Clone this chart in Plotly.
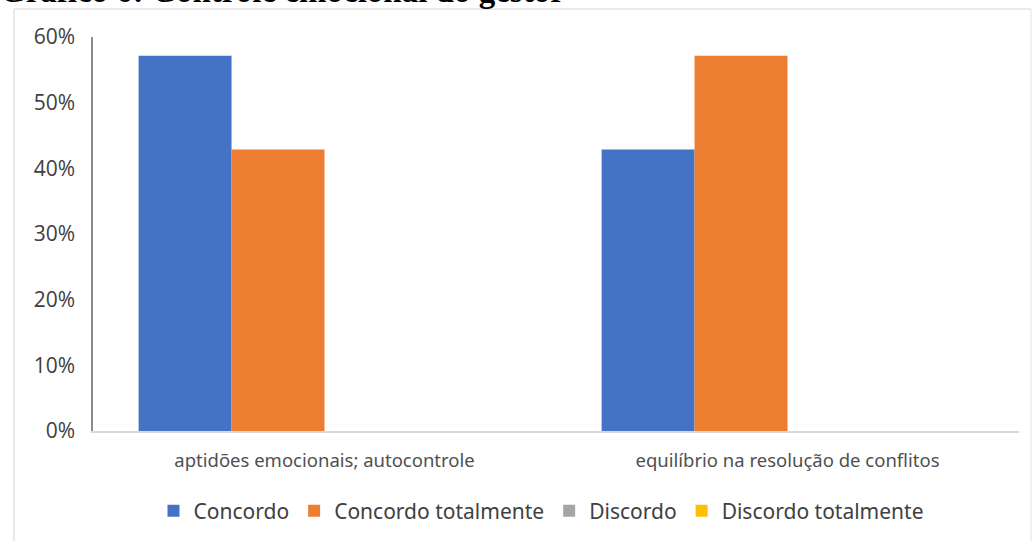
import plotly.graph_objects as go

categories = ["aptidões emocionais; autocontrole", "equilíbrio na resolução de conflitos"]
series_names = ["Concordo", "Concordo totalmente", "Discordo", "Discordo totalmente"]
concordo = [0.5714, 0.4286]
concordo_totalmente = [0.4286, 0.5714]
discordo = [0.0, 0.0]
discordo_totalmente = [0.0, 0.0]
series_values = [concordo, concordo_totalmente, discordo, discordo_totalmente]
colors = ["#4472C4", "#ED7D31", "#A5A5A5", "#FFC000"]
title_text = "Gráfico 6: Controle emocional do gestor"

fig = go.Figure()
for name, vals, c in zip(series_names, series_values, colors):
    fig.add_trace(go.Bar(x=categories, y=vals, name=name, marker=dict(color=c, line=dict(width=0))))

W, H = 1033, 541
L, R, T, B = 93, 14, 37, 110
pw, ph = W - L - R, H - T - B

def px(x):
    return (x - L) / pw

def py(y):
    return (H - B - y) / ph

fig.update_layout(
    width=W, height=H,
    margin=dict(l=L, r=R, t=T, b=B),
    paper_bgcolor="white", plot_bgcolor="white",
    barmode="group", bargap=0.197, bargroupgap=0,
    showlegend=True,
    legend=dict(orientation="h", xref="container", yref="container",
                x=541 / W, xanchor="center", y=1 - 511 / H, yanchor="middle",
                font=dict(family="Noto Sans", size=21, color="#404040"),
                itemwidth=30, tracegroupgap=0, traceorder="normal"),
    font=dict(family="Open Sans", color="#404040"),
)
fig.update_xaxes(showline=True, linecolor="#D9D9D9", linewidth=1.5, ticks="",
                 showgrid=False, tickfont=dict(family="Noto Sans", size=18.5, color="#505050"),
                 ticklabelstandoff=12)
fig.update_yaxes(range=[0, 0.6], tickvals=[0, 0.1, 0.2, 0.3, 0.4, 0.5, 0.6], tickformat=".0%",
                 showline=True, linecolor="#8C8C8C", linewidth=1.5, ticks="", showgrid=False,
                 zeroline=False, tickfont=dict(family="Open Sans", size=21, color="#404040"),
                 ticklabelstandoff=12)

# outer chart frame (light gray)
frame_col = "#E3E3E3"
fig.add_shape(type="line", xref="paper", yref="paper", x0=px(14), x1=px(1031), y0=py(9), y1=py(9),
              line=dict(color=frame_col, width=1.5))
fig.add_shape(type="line", xref="paper", yref="paper", x0=px(14), x1=px(14), y0=py(9), y1=py(545),
              line=dict(color=frame_col, width=1.5))
fig.add_shape(type="line", xref="paper", yref="paper", x0=px(1031), x1=px(1031), y0=py(9), y1=py(545),
              line=dict(color=frame_col, width=1))

fig.add_annotation(text="<b>" + title_text + "</b>", xref="paper", yref="paper",
                   x=px(-2), xanchor="left", y=py(11), yanchor="bottom", showarrow=False,
                   font=dict(family="Liberation Serif", size=33, color="black"))

fig.write_html("out.html")
